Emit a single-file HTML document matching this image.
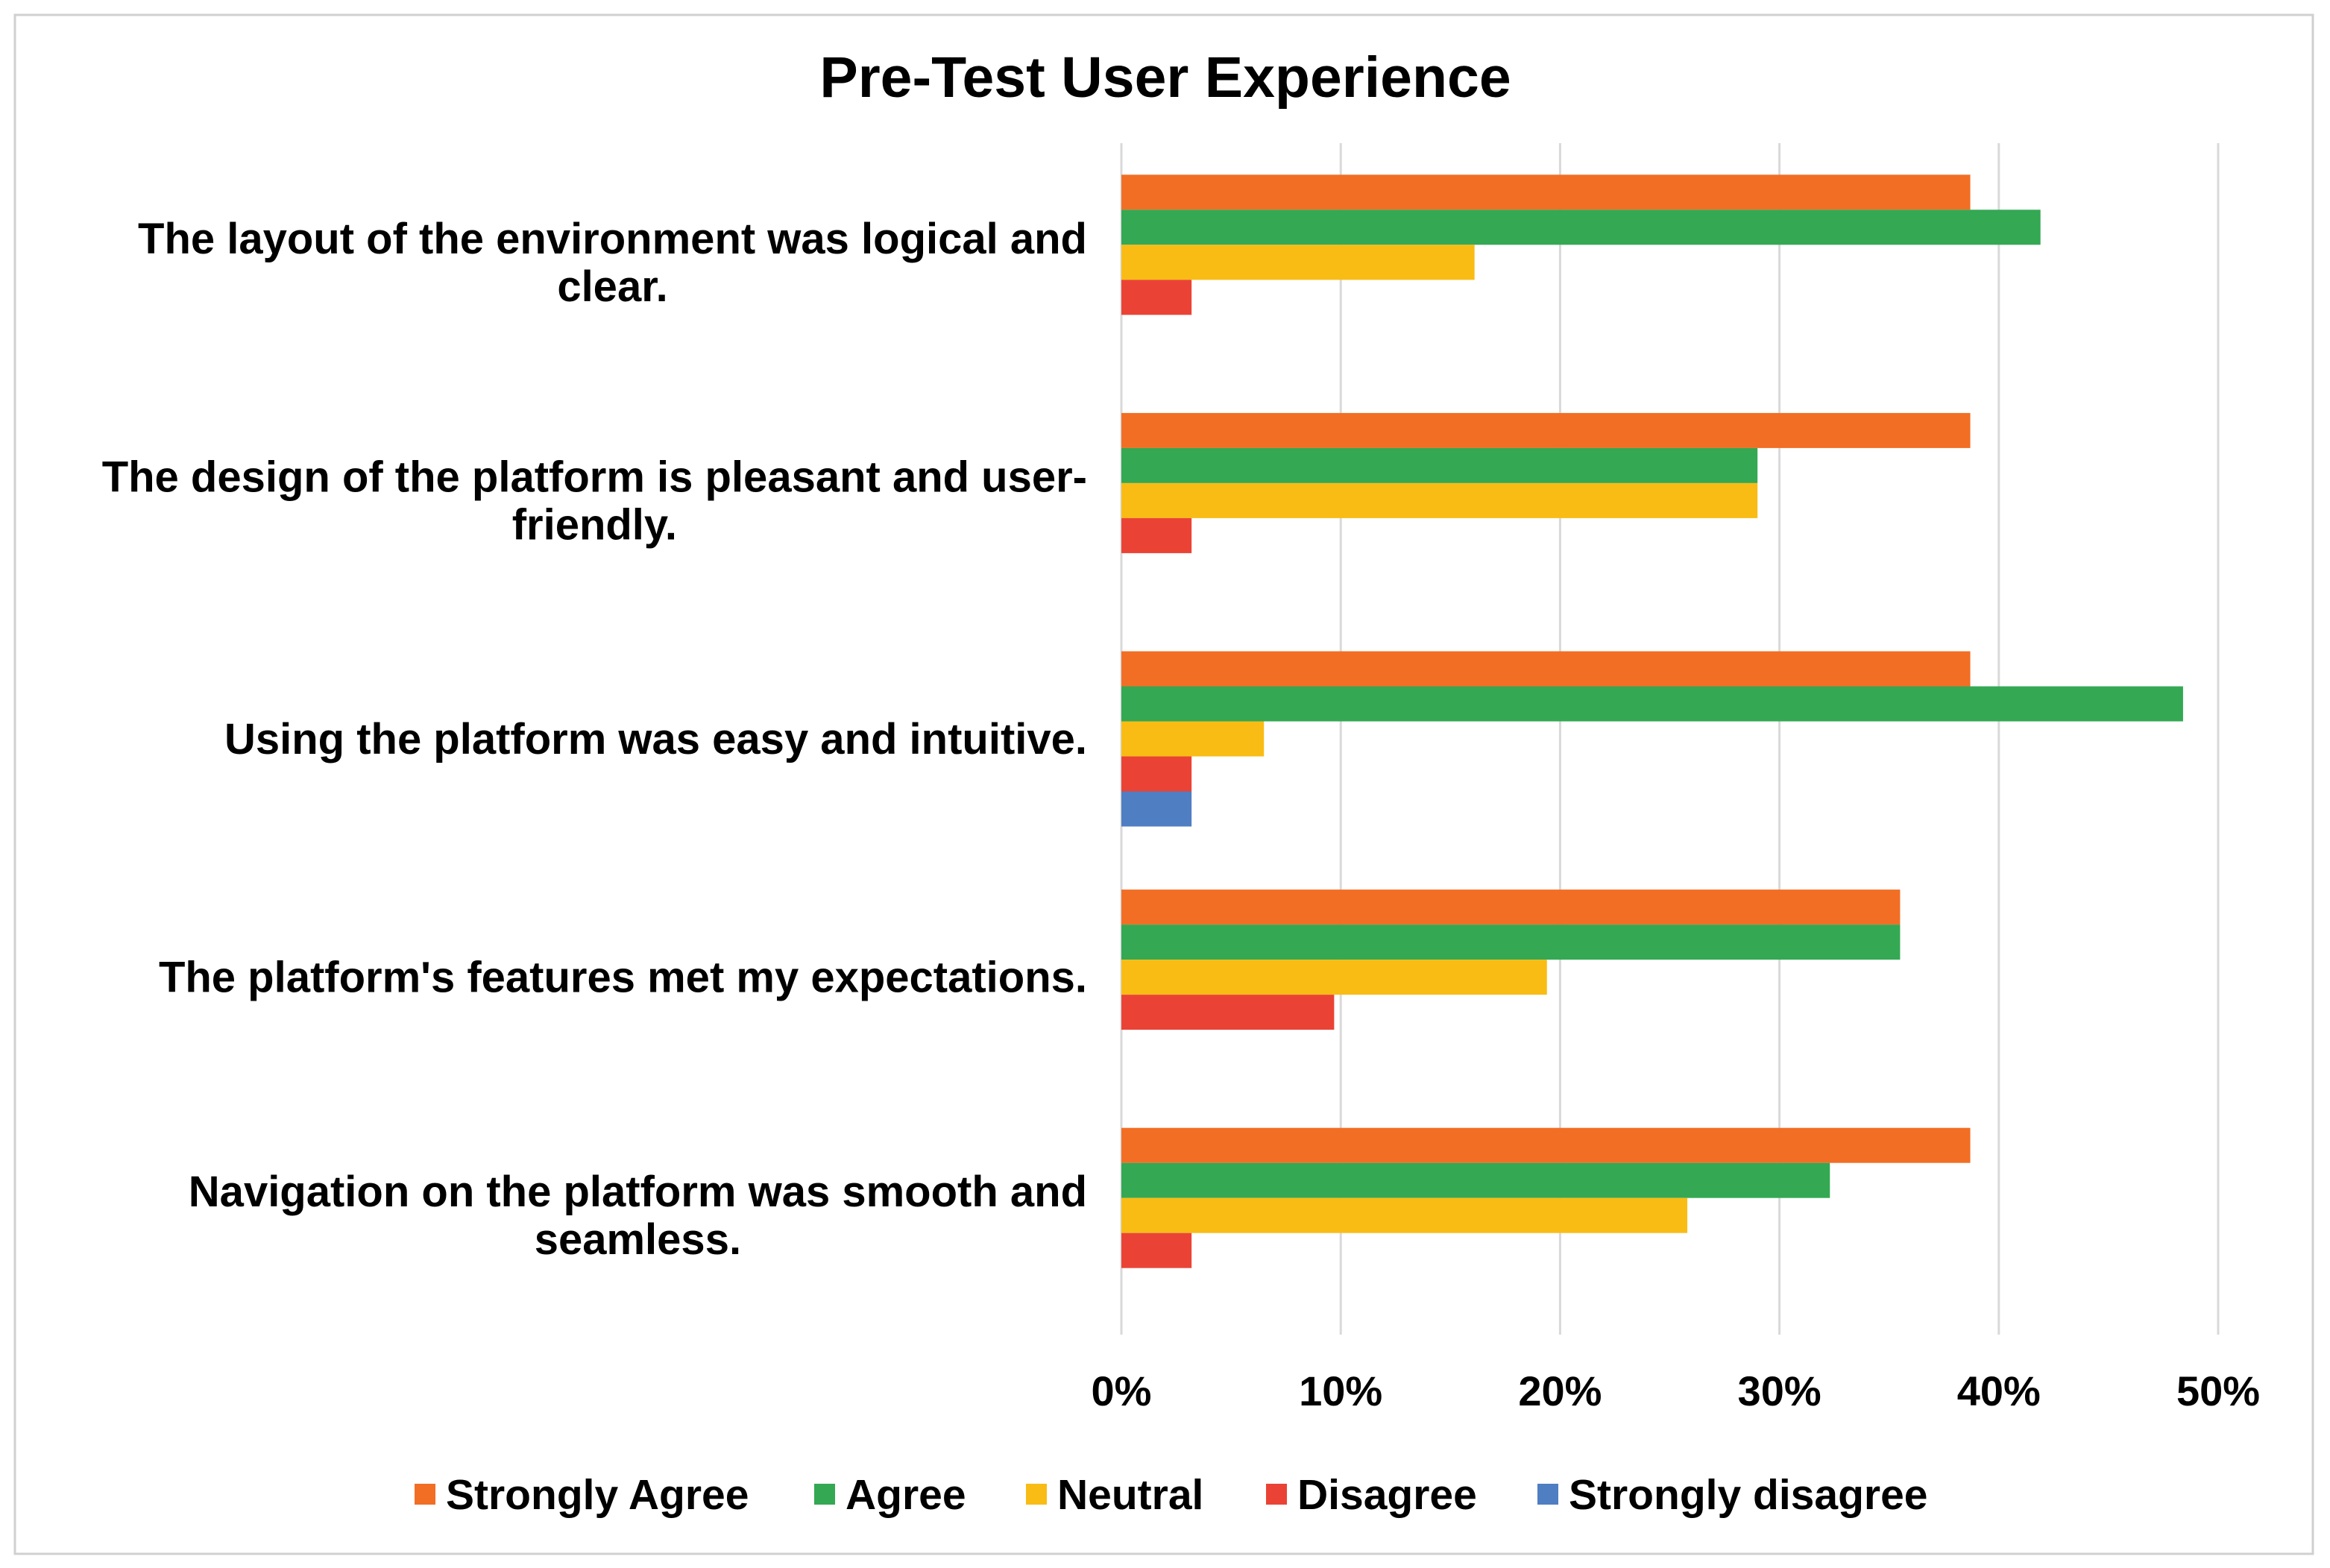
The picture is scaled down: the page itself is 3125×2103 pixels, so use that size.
<!DOCTYPE html>
<html><head><meta charset="utf-8"><style>
body{margin:0;background:#fff}
svg{display:block;font-family:"Liberation Sans",Arial,sans-serif;font-weight:bold}
</style></head><body>
<svg id="c" width="3125" height="2103" viewBox="0 0 3125 2103" xmlns="http://www.w3.org/2000/svg">
<rect x="20" y="20" width="3082" height="2064" fill="#fff" stroke="#d0d0d0" stroke-width="3"/>
<text x="1563" y="130" text-anchor="middle" font-size="77" fill="#000">Pre-Test User Experience</text>
<g id="grid"></g><g id="bars"></g><g id="ylab"></g><g id="xlab"></g><g id="legend"></g>
</svg>
<script>
const categories=[["The layout of the environment was logical and","clear."],["The design of the platform is pleasant and user-","friendly."],["Using the platform was easy and intuitive."],["The platform's features met my expectations."],["Navigation on the platform was smooth and","seamless."]];
const seriesNames=["Strongly Agree","Agree","Neutral","Disagree","Strongly disagree"];
const stronglyAgree=[38.7,38.7,38.7,35.5,38.7];
const agree=[41.9,29.0,48.4,35.5,32.3];
const neutral=[16.1,29.0,6.5,19.4,25.8];
const disagree=[3.2,3.2,3.2,9.7,3.2];
const stronglyDisagree=[0,0,3.2,0,0];
const ticks=[0,10,20,30,40,50];
const tickLabels=["0%","10%","20%","30%","40%","50%"];
const colors=["#f26e24","#34a853","#f9bc15","#ea4335","#4f7ec2"];
const series=[stronglyAgree,agree,neutral,disagree,stronglyDisagree];
const NS="http://www.w3.org/2000/svg";
const x0=1504,x1=2975,yTop=192,yBot=1790;
const xs=v=>x0+(v/50)*(x1-x0);
const band=(yBot-yTop)/categories.length;
const barH=47, off=(band-barH*5)/2;
function mk(t,a,p){const e=document.createElementNS(NS,t);for(const k in a)e.setAttribute(k,a[k]);p.appendChild(e);return e;}
const G=document.getElementById('grid'),B=document.getElementById('bars'),Y=document.getElementById('ylab'),X=document.getElementById('xlab'),L=document.getElementById('legend');
ticks.forEach((t,i)=>{
 const l=mk('line',{x1:xs(t),x2:xs(t),y1:yTop,y2:yBot,stroke:'#d9d9d9','stroke-width':3},G);
 
 
 const tx=mk('text',{x:xs(t),y:1885,'text-anchor':'middle','font-size':56},X);
 tx.textContent=tickLabels[i];
 
 
});
categories.forEach((c,i)=>{
 const gy=yTop+band*i;
 series.forEach((s,j)=>{
  if(s[i]<=0)return;
  const r=mk('rect',{x:x0,y:gy+off+barH*j,width:xs(s[i])-x0,height:barH,fill:colors[j]},B);
  
  
 });
 const cy=gy+band/2;
 const t=mk('text',{x:1458,'text-anchor':'middle','font-size':58},Y);
 
 
 const spans=c.map((ln,k)=>{const ts=mk('tspan',{y:cy+20+(k-(c.length-1)/2)*64},t);ts.textContent=ln;return ts;});
 const w=Math.max(...spans.map(s=>s.getComputedTextLength()));
 spans.forEach(s=>s.setAttribute('x',1458-w/2));
});
const lx=[556,1092,1376,1698,2062];
seriesNames.forEach((n,j)=>{
 const g=mk('g',{},L);
 
 
 mk('rect',{x:lx[j],y:1990,width:28,height:28,fill:colors[j]},g);
 const t=mk('text',{x:lx[j]+42,y:2024,'font-size':57},g);t.textContent=n;
});
</script>
</body></html>
